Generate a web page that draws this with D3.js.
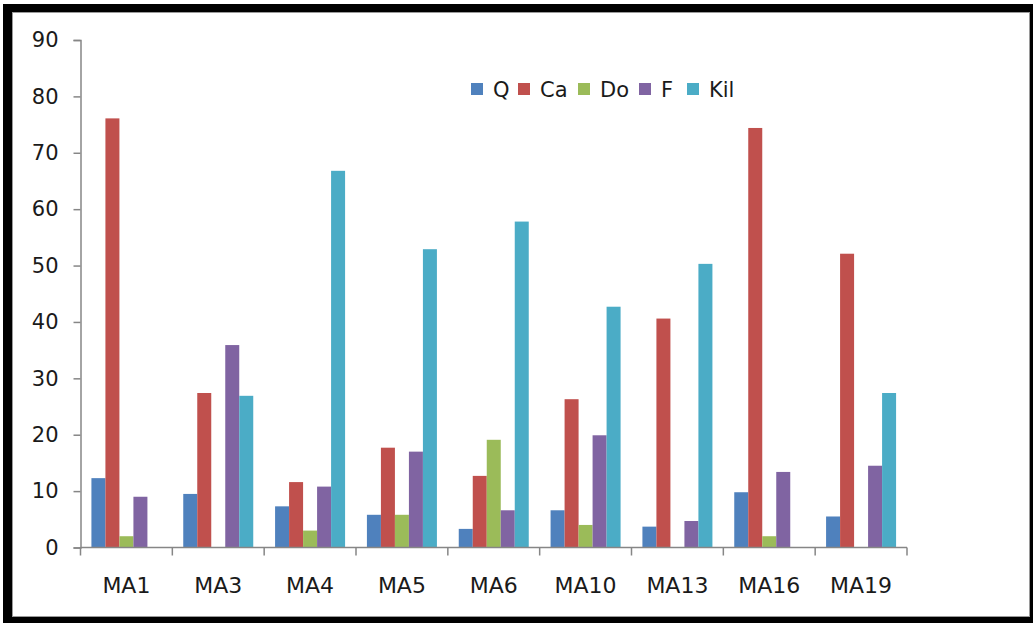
<!DOCTYPE html>
<html>
<head>
<meta charset="utf-8">
<script src="https://cdnjs.cloudflare.com/ajax/libs/d3/7.8.5/d3.min.js"></script>
<style>
  html, body { margin: 0; padding: 0; background: #fff; }
  svg { display: block; }
  text { font-family: "DejaVu Sans", Verdana, sans-serif; fill: #1a1a1a; }
</style>
</head>
<body>
<svg id="chart" width="1033" height="623"></svg>
<script>
// Sample sites and measured components
const categories = ["MA1", "MA3", "MA4", "MA5", "MA6", "MA10", "MA13", "MA16", "MA19"];
const seriesNames = ["Q", "Ca", "Do", "F", "Kil"];
const seriesColors = ["#4F81BD", "#C0504D", "#9BBB59", "#8064A2", "#4BACC6"];

const Q   = [12.3,  9.5,  7.3,  5.8,  3.3,  6.6,  3.7,  9.8,  5.5];
const Ca  = [76.1, 27.4, 11.6, 17.7, 12.7, 26.3, 40.6, 74.4, 52.1];
const Do  = [ 2.0,  0,    3.0,  5.8, 19.1,  4.0,  0,    2.0,  0  ];
const F   = [ 9.0, 35.9, 10.8, 17.0,  6.6, 19.9,  4.7, 13.4, 14.5];
const Kil = [ 0,   26.9, 66.8, 52.9, 57.8, 42.7, 50.3,  0,   27.4];

const yTicks = [0, 10, 20, 30, 40, 50, 60, 70, 80, 90];

const seriesValues = [Q, Ca, Do, F, Kil];

const svg = d3.select("#chart");

// Framed chart area
svg.append("rect").attr("x", 3).attr("y", 4).attr("width", 1030).attr("height", 619).attr("fill", "#000");
svg.append("rect").attr("x", 12.5).attr("y", 12.5).attr("width", 1017).attr("height", 604)
  .attr("fill", "#fff").attr("stroke", "#9a9a9a").attr("stroke-width", 1);

const plot = { left: 80.5, right: 907, top: 40, bottom: 547.5 };

const x = d3.scaleBand().domain(categories).range([plot.left, plot.right]);
const y = d3.scaleLinear().domain([0, 90]).range([plot.bottom, plot.top]);

// Bars (five series side by side in each category)
const barW = 14;
const groupW = barW * seriesNames.length;
const offset = (x.bandwidth() - groupW) / 2;
seriesNames.forEach((name, si) => {
  svg.append("g").selectAll("rect")
    .data(categories.map((c, i) => ({ c, v: seriesValues[si][i] })))
    .join("rect")
    .attr("x", d => x(d.c) + offset + si * barW)
    .attr("y", d => y(d.v))
    .attr("width", barW)
    .attr("height", d => y(0) - y(d.v))
    .attr("fill", seriesColors[si]);
});

// Y axis
const yAxis = d3.axisLeft(y).tickValues(yTicks).tickSize(7).tickPadding(15).tickFormat(d3.format("d"));
const gy = svg.append("g").attr("transform", `translate(${plot.left},0)`).call(yAxis);
gy.select(".domain").attr("stroke", "#868686").attr("stroke-width", 1.5);
gy.selectAll(".tick line").attr("stroke", "#868686").attr("stroke-width", 1.5);
gy.selectAll(".tick text").attr("font-size", 21).attr("fill", "#1a1a1a")
  .attr("font-family", "DejaVu Sans, Verdana, sans-serif");

// X axis: ticks at the category boundaries
const gx = svg.append("g").attr("transform", `translate(0,${plot.bottom})`);
gx.append("line").attr("x1", plot.left).attr("x2", plot.right).attr("y1", 0).attr("y2", 0)
  .attr("stroke", "#868686").attr("stroke-width", 1.5);
const bounds = categories.map(c => x(c)).concat([plot.right]);
gx.selectAll("line.tk").data(bounds).join("line").attr("class", "tk")
  .attr("x1", d => d).attr("x2", d => d).attr("y1", 0).attr("y2", 8)
  .attr("stroke", "#868686").attr("stroke-width", 1.5);
gx.selectAll("text").data(categories).join("text")
  .attr("x", d => x(d) + x.bandwidth() / 2)
  .attr("y", 45)
  .attr("text-anchor", "middle")
  .attr("font-size", 22)
  .text(d => d);

// Legend
const legendX = [471, 518, 578, 639, 687];
const legend = svg.append("g").attr("transform", "translate(0,89)");
seriesNames.forEach((name, i) => {
  const g = legend.append("g").attr("transform", `translate(${legendX[i]},0)`);
  g.append("rect").attr("x", 0).attr("y", -6).attr("width", 12).attr("height", 12).attr("fill", seriesColors[i]);
  g.append("text").attr("x", 22).attr("y", 0).attr("dy", "0.36em").attr("font-size", 21).text(name);
});
</script>
</body>
</html>
